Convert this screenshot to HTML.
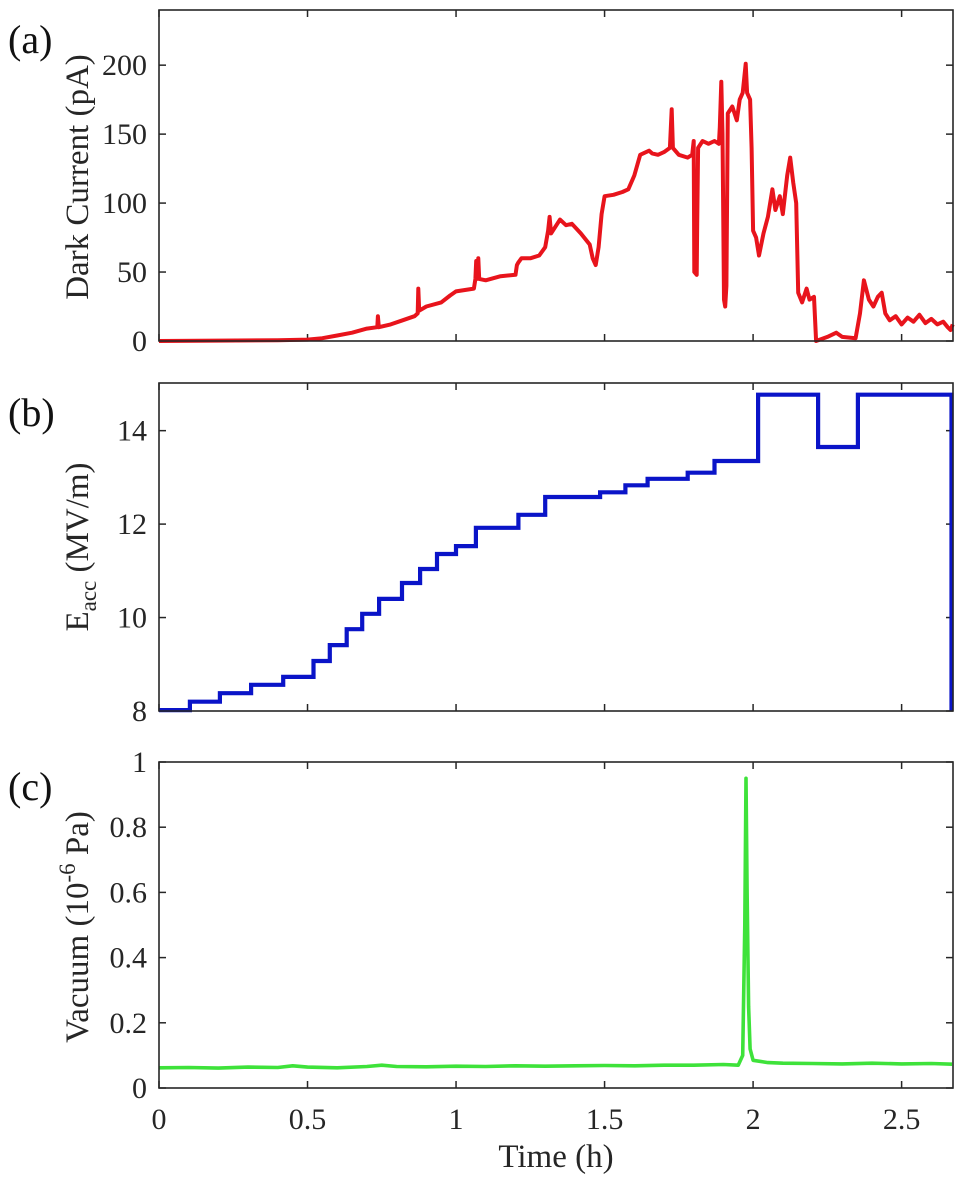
<!DOCTYPE html>
<html><head><meta charset="utf-8"><style>
html,body{margin:0;padding:0;background:#fff;}
svg{display:block;font-family:"Liberation Serif",serif;}
</style></head><body>
<svg id="fig" width="966" height="1182" viewBox="0 0 966 1182"></svg>
<script>
const xTicks = [0, 0.5, 1, 1.5, 2, 2.5];
const xTickLabels = ["0", "0.5", "1", "1.5", "2", "2.5"];
const currentTicks = [0, 50, 100, 150, 200];
const eaccTicks = [8, 10, 12, 14];
const vacuumTicks = [0, 0.2, 0.4, 0.6, 0.8, 1];
const vacuumTickLabels = ["0", "0.2", "0.4", "0.6", "0.8", "1"];
const currentPoints = [[0,0],[0.2,0.3],[0.4,0.5],[0.5,1],[0.55,2],[0.6,4],[0.65,6],[0.7,9],[0.735,10],[0.737,18],[0.74,10],[0.78,12],[0.82,15],[0.86,18],[0.871,20],[0.873,38],[0.876,22],[0.9,25],[0.95,28],[0.98,33],[1.0,36],[1.06,38],[1.065,45],[1.068,58],[1.071,45],[1.075,60],[1.078,45],[1.1,44],[1.15,47],[1.2,48],[1.205,55],[1.21,57],[1.22,60],[1.25,60],[1.28,62],[1.3,68],[1.31,80],[1.315,90],[1.32,78],[1.35,88],[1.37,84],[1.39,85],[1.42,78],[1.45,70],[1.46,60],[1.47,55],[1.48,68],[1.49,92],[1.5,105],[1.53,106],[1.56,108],[1.58,110],[1.6,120],[1.62,135],[1.65,138],[1.66,136],
[1.68,135],[1.70,137],[1.72,140],[1.726,168],[1.73,140],[1.75,135],[1.78,133],[1.795,135],[1.80,145],[1.802,50],[1.81,48],[1.812,85],[1.815,140],[1.83,145],[1.85,143],[1.87,145],[1.885,143],[1.888,155],[1.893,188],[1.897,150],[1.902,30],[1.906,25],[1.91,40],[1.915,165],[1.93,170],[1.945,160],[1.955,175],[1.965,180],[1.975,201],[1.98,180],[1.99,175],[1.995,140],[2.0,80],[2.01,75],[2.02,62],[2.035,78],[2.05,90],[2.065,110],[2.075,95],[2.09,105],[2.1,92],[2.115,120],[2.125,133],[2.135,115],[2.145,100],[2.152,35],[2.165,28],[2.18,38],[2.19,30],[2.205,32],[2.212,0],[2.25,3],[2.28,6],[2.3,3],[2.345,2],[2.36,20],[2.373,44],[2.39,30],[2.405,25],[2.42,32],[2.433,35],[2.445,20],[2.46,15],[2.48,18],[2.5,12],[2.52,17],[2.54,14],[2.56,19],[2.58,13],[2.6,16],[2.62,12],[2.64,14],[2.655,10],[2.665,8],[2.672,12]];
const eaccStepStarts = [0,0.104,0.205,0.31,0.418,0.52,0.575,0.632,0.684,0.741,0.818,0.879,0.936,1.0,1.067,1.21,1.30,1.485,1.57,1.645,1.78,1.87,2.017,2.219,2.353];
const eaccStepValues = [8.02,8.2,8.38,8.56,8.73,9.07,9.41,9.75,10.08,10.4,10.74,11.04,11.36,11.53,11.92,12.2,12.58,12.68,12.83,12.97,13.1,13.35,14.77,13.65,14.77];
const eaccEnd = 2.668;
const vacuumPoints = [[0,0.062],[0.1,0.063],[0.2,0.061],[0.3,0.064],[0.4,0.063],[0.45,0.068],[0.5,0.064],[0.6,0.062],[0.7,0.066],[0.75,0.07],[0.8,0.066],[0.9,0.065],[1.0,0.067],[1.1,0.066],[1.2,0.068],[1.3,0.067],[1.4,0.068],[1.5,0.069],[1.6,0.068],[1.7,0.07],[1.8,0.07],[1.9,0.072],[1.95,0.07],[1.965,0.1],[1.972,0.5],[1.976,0.95],[1.98,0.6],[1.985,0.25],[1.99,0.12],[2.0,0.085],[2.05,0.078],[2.1,0.076],[2.2,0.075],[2.3,0.074],[2.4,0.076],[2.5,0.074],[2.6,0.075],[2.67,0.073]];

const NS = "http://www.w3.org/2000/svg";
const svg = document.getElementById('fig');
const L = 159, R = 953, XMAX = 2.673;
function xs(t){ return L + (t / XMAX) * (R - L); }
function mk(tag, attrs, parent){
  const e = document.createElementNS(NS, tag);
  for (const k in attrs) e.setAttribute(k, attrs[k]);
  (parent || svg).appendChild(e);
  return e;
}
function panel(name, top, bottom, ymin, ymax, yt, ytl){
  const g = mk('g', {});
  
  
  const ys = v => bottom - (v - ymin) / (ymax - ymin) * (bottom - top);
  xTicks.forEach(t => {
    const x = xs(t);
    const a = mk('line', {x1:x, x2:x, y1:bottom, y2:bottom-7, stroke:'#262626','stroke-width':1.5}, g);
    
    
    mk('line', {x1:x, x2:x, y1:top, y2:top+7, stroke:'#262626','stroke-width':1.5}, g);
  });
  yt.forEach((v, i) => {
    const y = ys(v);
    mk('line', {x1:L, x2:L+7, y1:y, y2:y, stroke:'#262626','stroke-width':1.5}, g);
    mk('line', {x1:R, x2:R-7, y1:y, y2:y, stroke:'#262626','stroke-width':1.5}, g);
    const tx = mk('text', {x:147, y:y+10, 'text-anchor':'end', 'font-size':30, fill:'#262626'}, g);
    tx.textContent = ytl ? ytl[i] : String(v);
    
    
  });
  return {g, ys};
}
function box(top, bottom){
  const b = mk('rect', {x:L, y:top, width:R-L, height:bottom-top, fill:'none', stroke:'#262626', 'stroke-width':1.6});
  
  
}

const pa = panel('current', 10, 341, 0, 240, currentTicks);
let d = currentPoints.map((p, i) => (i ? 'L' : 'M') + xs(p[0]).toFixed(1) + ',' + pa.ys(p[1]).toFixed(1)).join('');
const la = mk('path', {d, fill:'none', stroke:'#e8141c', 'stroke-width':4, 'stroke-linejoin':'round'});


box(10, 341);

const pb = panel('eacc', 383, 711, 8, 15.02, eaccTicks);
d = '';
eaccStepStarts.forEach((t, i) => {
  const tEnd = i < eaccStepStarts.length - 1 ? eaccStepStarts[i+1] : eaccEnd;
  const y = pb.ys(eaccStepValues[i]).toFixed(1);
  d += (i ? 'L' : 'M') + xs(t).toFixed(1) + ',' + y + 'L' + xs(tEnd).toFixed(1) + ',' + y;
});
d += 'L' + xs(eaccEnd).toFixed(1) + ',' + pb.ys(8).toFixed(1);
const lb = mk('path', {d, fill:'none', stroke:'#0a14c8', 'stroke-width':4.2});


box(383, 711);

const pc = panel('vacuum', 762, 1088, 0, 1, vacuumTicks, vacuumTickLabels);
d = vacuumPoints.map((p, i) => (i ? 'L' : 'M') + xs(p[0]).toFixed(1) + ',' + pc.ys(p[1]).toFixed(1)).join('');
const lc = mk('path', {d, fill:'none', stroke:'#3ee23a', 'stroke-width':3.6, 'stroke-linejoin':'round'});


box(762, 1088);

xTicks.forEach((t, i) => {
  const tx = mk('text', {x:xs(t), y:1129, 'text-anchor':'middle', 'font-size':30, fill:'#262626'});
  tx.textContent = xTickLabels[i];
  
  
});
</script>
<div style="position:absolute;left:0;top:0;width:966px;height:1182px;pointer-events:none;">
<svg width="966" height="1182" style="position:absolute;left:0;top:0;font-family:'Liberation Serif',serif;">
  <text x="8" y="53" font-size="40" fill="#111">(a)</text>
  <text x="8" y="426" font-size="40" fill="#111">(b)</text>
  <text x="8" y="800" font-size="40" fill="#111">(c)</text>
  <text transform="translate(88,177) rotate(-90)" text-anchor="middle" font-size="33" fill="#262626">Dark Current (pA)</text>
  <text transform="translate(88,547) rotate(-90)" text-anchor="middle" font-size="33" fill="#262626">E<tspan font-size="23" dy="8">acc</tspan><tspan dy="-8"> (MV/m)</tspan></text>
  <text transform="translate(88,927) rotate(-90)" text-anchor="middle" font-size="33" fill="#262626">Vacuum (10<tspan font-size="23" dy="-13">-6</tspan><tspan dy="13"> Pa)</tspan></text>
  <text x="556" y="1167" text-anchor="middle" font-size="33" fill="#262626">Time (h)</text>
</svg>
</div>
</body></html>
